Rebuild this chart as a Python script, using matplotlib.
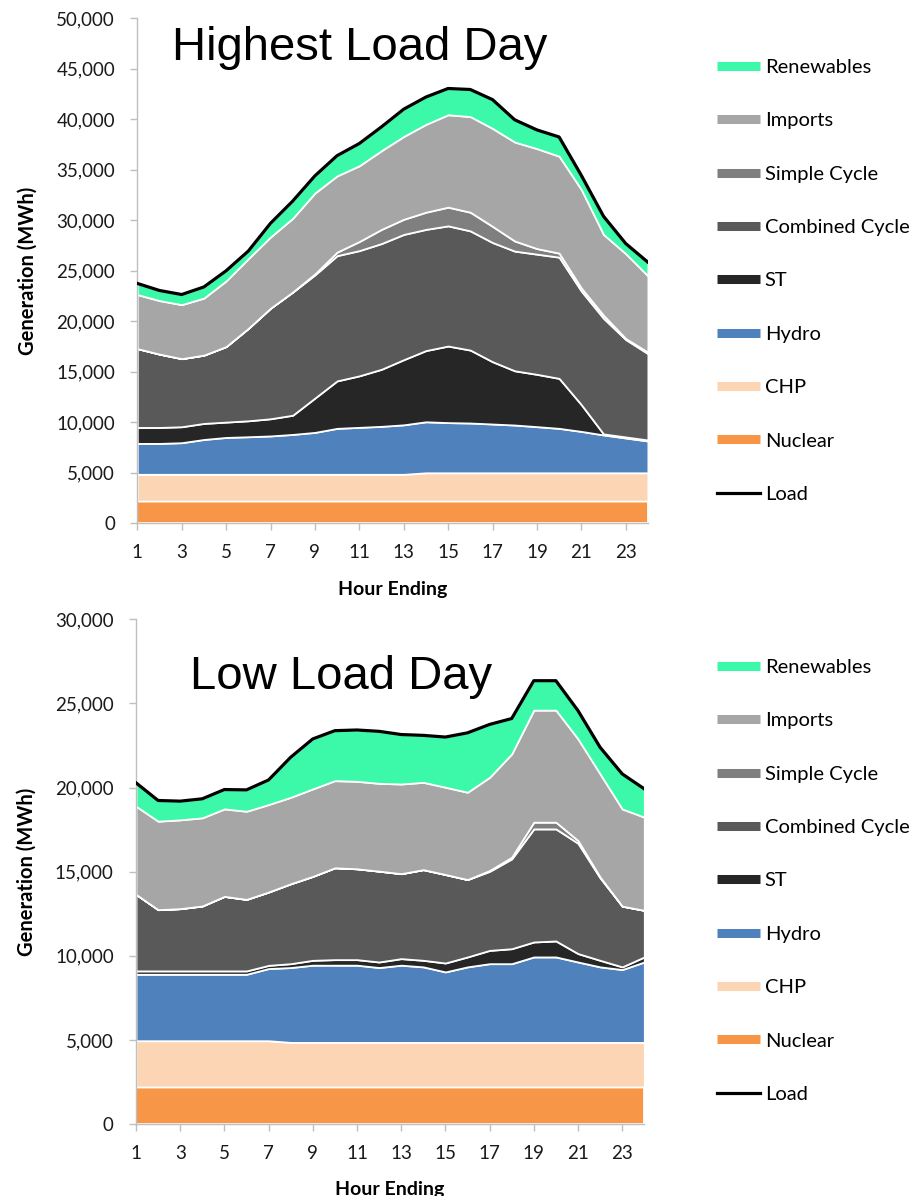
import matplotlib
matplotlib.use("Agg")
import matplotlib.pyplot as plt
from matplotlib.lines import Line2D
from matplotlib.ticker import StrMethodFormatter

plt.rcParams["font.family"] = ["Lato", "DejaVu Sans"]

HOURS = list(range(1, 25))
NAMES = ["Nuclear", "CHP", "Hydro", "ST", "Combined Cycle", "Simple Cycle", "Imports", "Renewables"]
COLORS = ["#F79646", "#FCD5B4", "#4F81BD", "#262626", "#595959", "#7F7F7F", "#A6A6A6", "#3BF9A8"]

# Highest load day, MWh per hour ending
HI_NUCLEAR = [2200, 2200, 2200, 2200, 2200, 2200, 2200, 2200, 2200, 2200, 2200, 2200,
              2200, 2200, 2200, 2200, 2200, 2200, 2200, 2200, 2200, 2200, 2200, 2200]
HI_CHP = [2650, 2650, 2650, 2650, 2650, 2650, 2650, 2650, 2650, 2650, 2650, 2650,
          2650, 2800, 2800, 2800, 2800, 2800, 2800, 2800, 2800, 2800, 2800, 2800]
HI_HYDRO = [3060, 3060, 3130, 3450, 3650, 3720, 3800, 3950, 4150, 4550, 4650, 4750,
            4900, 5050, 4970, 4930, 4830, 4730, 4570, 4400, 4100, 3750, 3450, 3150]
HI_ST = [1580, 1580, 1580, 1590, 1520, 1580, 1700, 1900, 3400, 4700, 5100, 5650,
         6450, 7050, 7580, 7220, 6170, 5370, 5180, 4950, 2650, 100, 100, 100]
HI_CC = [7810, 7260, 6740, 6760, 7480, 9150, 10950, 12200, 12200, 12400, 12400, 12450,
         12400, 12000, 11900, 11800, 11800, 11850, 11900, 12000, 11250, 11450, 9650, 8550]
HI_SC = [0, 0, 0, 0, 0, 0, 0, 0, 100, 350, 900, 1400,
         1500, 1700, 1850, 1850, 1600, 1000, 550, 400, 300, 300, 100, 150]
HI_IMPORTS = [5350, 5300, 5350, 5650, 6500, 6900, 7050, 7300, 8000, 7550, 7500, 7800,
              8200, 8700, 9150, 9470, 9700, 9800, 9900, 9600, 9750, 8000, 8400, 7550]
HI_RENEW = [1100, 1000, 1000, 1100, 1000, 750, 1350, 1700, 1700, 2000, 2200, 2350,
            2700, 2700, 2600, 2680, 2850, 2200, 1850, 1900, 1400, 1800, 1000, 1350]
HI_LOAD = [23750, 23050, 22650, 23400, 25000, 26950, 29700, 31900, 34400, 36400, 37600, 39250,
           41000, 42200, 43050, 42950, 41950, 39950, 38950, 38250, 34450, 30400, 27700, 25850]

# Low load day
LO_NUCLEAR = [2200, 2200, 2200, 2200, 2200, 2200, 2200, 2200, 2200, 2200, 2200, 2200,
              2200, 2200, 2200, 2200, 2200, 2200, 2200, 2200, 2200, 2200, 2200, 2200]
LO_CHP = [2750, 2750, 2750, 2750, 2750, 2750, 2750, 2650, 2650, 2650, 2650, 2650,
          2650, 2650, 2650, 2650, 2650, 2650, 2650, 2650, 2650, 2650, 2650, 2650]
LO_HYDRO = [3950, 3950, 3950, 3950, 3950, 3950, 4290, 4450, 4590, 4590, 4590, 4450,
            4590, 4490, 4190, 4490, 4680, 4680, 5080, 5080, 4780, 4490, 4330, 4780]
LO_ST = [200, 200, 200, 200, 200, 200, 190, 230, 290, 330, 330, 330,
         390, 390, 530, 590, 790, 890, 890, 950, 500, 390, 160, 300]
LO_CC = [4550, 3640, 3700, 3860, 4430, 4250, 4360, 4750, 4990, 5460, 5400, 5400,
         5050, 5390, 5260, 4600, 4700, 5340, 6720, 6660, 6560, 4900, 3610, 2770]
LO_SC = [0, 0, 0, 0, 0, 0, 0, 0, 0, 0, 0, 0,
         0, 0, 0, 0, 50, 100, 400, 400, 160, 50, 0, 0]
LO_IMPORTS = [5240, 5260, 5280, 5240, 5200, 5240, 5200, 5140, 5200, 5180, 5200, 5220,
              5330, 5190, 5190, 5190, 5540, 6140, 6660, 6660, 6040, 6130, 5780, 5540]
LO_RENEW = [1390, 1230, 1110, 1130, 1150, 1270, 1460, 2380, 2970, 2970, 3050, 3090,
            2940, 2790, 2980, 3530, 3140, 2100, 1750, 1750, 1680, 1580, 2080, 1680]
LO_LOAD = [20280, 19230, 19190, 19330, 19880, 19860, 20450, 21800, 22890, 23380, 23420, 23340,
           23150, 23100, 23000, 23250, 23750, 24100, 26350, 26350, 24570, 22390, 20810, 19920]

XTICKS = [1, 3, 5, 7, 9, 11, 13, 15, 17, 19, 21, 23]

fig = plt.figure(figsize=(9.17, 11.96), dpi=100)
W, H = 917.0, 1196.0


def panel(rect, stacks, load, ymax, ystep, title, tpos, leg_top):
    ax = fig.add_axes(rect)
    ax.stackplot(HOURS, *stacks, colors=COLORS, edgecolor="white", linewidth=1.3, zorder=2)
    ax.plot(HOURS, load, color="black", lw=2.3, zorder=4, solid_joinstyle="round")
    ax.set_xlim(1, 24)
    ax.set_ylim(0, ymax)
    ax.set_xticks(XTICKS)
    ax.set_yticks(range(0, ymax + 1, ystep))
    ax.yaxis.set_major_formatter(StrMethodFormatter("{x:,.0f}"))
    for s in ["top", "right"]:
        ax.spines[s].set_visible(False)
    for s in ["left", "bottom"]:
        ax.spines[s].set_color("#BFBFBF")
        ax.spines[s].set_linewidth(1.0)
    ax.tick_params(axis="both", color="#BFBFBF", length=5, width=1, labelsize=13.5, labelcolor="#1a1a1a")
    ax.tick_params(axis="y", pad=11)
    ax.tick_params(axis="x", pad=10)
    ax.set_xlabel("Hour Ending", fontsize=14, fontweight="bold", labelpad=14)
    ax.set_ylabel("Generation (MWh)", fontsize=14.5, fontweight="bold")
    ax.yaxis.set_label_coords(-0.196, 0.5)
    ax.text(tpos[0], tpos[1], title, transform=ax.transAxes, ha="center", va="center",
            fontsize=34, family="Liberation Sans", color="black")

    handles = [Line2D([0], [0], color=c, lw=6.5, solid_capstyle="butt") for c in COLORS[::-1]]
    handles.append(Line2D([0], [0], color="black", lw=2.3))
    labels = NAMES[::-1] + ["Load"]
    fig.legend(handles, labels, loc="upper left", bbox_to_anchor=(717 / W, 1 - leg_top / H),
               frameon=False, fontsize=14.5, handlelength=2.15, handletextpad=0.22,
               labelspacing=1.8, borderpad=0, borderaxespad=0)
    return ax


top_stacks = [HI_NUCLEAR, HI_CHP, HI_HYDRO, HI_ST, HI_CC, HI_SC, HI_IMPORTS, HI_RENEW]
low_stacks = [LO_NUCLEAR, LO_CHP, LO_HYDRO, LO_ST, LO_CC, LO_SC, LO_IMPORTS, LO_RENEW]

panel([137.3 / W, 1 - 523.3 / H, 510.6 / W, 505 / H], top_stacks, HI_LOAD, 50000, 5000,
      "Highest Load Day", (0.436, 0.941), 59)
panel([136 / W, 1 - 1124 / H, 508.3 / W, 504.7 / H], low_stacks, LO_LOAD, 30000, 5000,
      "Low Load Day", (0.403, 0.886), 659)

fig.savefig("out.png", dpi=100)
